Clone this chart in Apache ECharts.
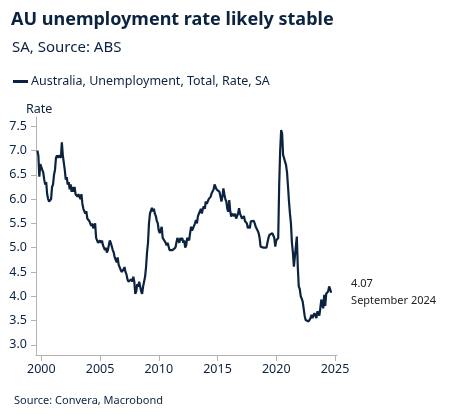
<!DOCTYPE html>
<html><head><meta charset="utf-8">
<script src="https://cdn.jsdelivr.net/npm/echarts@6/dist/echarts.min.js"></script>
<style>html,body{margin:0;padding:0;background:#fff}#c{width:453px;height:417px}</style>
</head><body><div id="c"></div>
<script>
// Monthly unemployment rate, SA, from Sep 1999 to Sep 2024
var startYear = 1999, startMonth = 9;
var rate1999 = [7.0, 6.9, 6.46, 6.72];
var rate2000 = [6.75, 6.6, 6.55, 6.4, 6.3, 6.35, 6.1, 6.0, 5.95, 5.95, 6.0, 6.25];
var rate2001 = [6.3, 6.5, 6.6, 6.85, 6.9, 6.85, 6.9, 6.9, 6.85, 7.17, 6.9, 6.9];
var rate2002 = [6.6, 6.4, 6.45, 6.3, 6.35, 6.2, 6.3, 6.15, 6.25, 6.15, 6.25, 6.1];
var rate2003 = [6.1, 6.05, 6.1, 6.1, 6.0, 6.1, 5.9, 5.8, 5.75, 5.7, 5.75, 5.6];
var rate2004 = [5.6, 5.55, 5.5, 5.45, 5.5, 5.4, 5.45, 5.5, 5.2, 5.15, 5.1, 5.1];
var rate2005 = [5.15, 5.1, 5.15, 5.05, 5.0, 4.95, 5.0, 4.9, 4.95, 5.05, 5.15, 5.1];
var rate2006 = [5.1, 4.95, 4.9, 4.8, 4.75, 4.7, 4.8, 4.65, 4.6, 4.55, 4.5, 4.5];
var rate2007 = [4.55, 4.6, 4.5, 4.45, 4.35, 4.3, 4.3, 4.3, 4.35, 4.3, 4.4, 4.3];
var rate2008 = [4.05, 4.1, 4.25, 4.2, 4.3, 4.2, 4.1, 4.05, 4.2, 4.3, 4.4, 4.6];
var rate2009 = [4.9, 5.1, 5.5, 5.7, 5.7, 5.82, 5.75, 5.8, 5.7, 5.65, 5.55, 5.5];
var rate2010 = [5.35, 5.3, 5.3, 5.43, 5.2, 5.2, 5.2, 5.1, 5.05, 5.1, 5.1, 4.95];
var rate2011 = [4.92, 4.95, 4.95, 4.95, 4.95, 5.0, 5.1, 5.2, 5.23, 5.1, 5.2, 5.15];
var rate2012 = [5.2, 5.1, 5.15, 5.0, 5.05, 5.2, 5.2, 5.15, 5.3, 5.43, 5.35, 5.35];
var rate2013 = [5.45, 5.5, 5.57, 5.5, 5.65, 5.7, 5.7, 5.8, 5.7, 5.8, 5.85, 5.8];
var rate2014 = [5.95, 5.9, 5.95, 6.0, 6.0, 6.05, 6.12, 6.1, 6.2, 6.3, 6.25, 6.2];
var rate2015 = [6.2, 6.2, 6.15, 6.05, 5.95, 6.05, 6.22, 6.1, 6.0, 5.95, 5.8, 5.74];
var rate2016 = [5.98, 5.75, 5.64, 5.7, 5.7, 5.65, 5.7, 5.6, 5.61, 5.7, 5.81, 5.7];
var rate2017 = [5.65, 5.6, 5.57, 5.65, 5.55, 5.55, 5.5, 5.4, 5.45, 5.4, 5.54, 5.5];
var rate2018 = [5.5, 5.55, 5.5, 5.43, 5.4, 5.35, 5.3, 5.2, 5.02, 5.05, 5.05, 5.0];
var rate2019 = [4.99, 5.0, 5.0, 5.1, 5.2, 5.26, 5.25, 5.3, 5.3, 5.25, 5.2, 5.02];
var rate2020 = [5.15, 5.19, 5.2, 6.3, 7.0, 7.42, 7.35, 6.91, 6.94, 6.9, 6.7, 6.55];
var rate2021 = [6.26, 5.95, 5.7, 5.5, 5.1, 4.9, 4.61, 4.6, 4.65, 5.23, 4.6, 4.2];
var rate2022 = [4.15, 4.0, 3.95, 3.89, 3.85, 3.6, 3.51, 3.55, 3.5, 3.48, 3.5, 3.55];
var rate2023 = [3.62, 3.55, 3.6, 3.65, 3.6, 3.55, 3.69, 3.65, 3.6, 3.75, 3.93, 3.85];
var rate2024 = [3.75, 4.03, 3.8, 4.05, 4.05, 4.1, 4.2, 4.15, 4.07];

var xTickYears = [2000, 2005, 2010, 2015, 2020, 2025];
var yTickValues = [3.0, 3.5, 4.0, 4.5, 5.0, 5.5, 6.0, 6.5, 7.0, 7.5];
var lastLabel = 'September 2024';

var allRates = [].concat(rate1999, rate2000, rate2001, rate2002, rate2003, rate2004,
  rate2005, rate2006, rate2007, rate2008, rate2009, rate2010, rate2011, rate2012,
  rate2013, rate2014, rate2015, rate2016, rate2017, rate2018, rate2019, rate2020,
  rate2021, rate2022, rate2023, rate2024);
var seriesData = allRates.map(function (v, i) {
  var m = startMonth - 1 + i;
  return [startYear + m / 12, v];
});

var navy = '#0c2340';
var font = 'Noto Sans';
var chart = echarts.init(document.getElementById('c'), null, {renderer: 'canvas'});
chart.setOption({
  animation: false,
  textStyle: {fontFamily: font},
  title: [
    {text: 'AU unemployment rate likely stable', left: 6, top: 6,
     textStyle: {fontFamily: font, fontSize: 18, fontWeight: 'bold', color: navy}},
    {text: 'SA, Source: ABS', left: 7, top: 35,
     textStyle: {fontFamily: font, fontSize: 15, fontWeight: 'normal', color: navy}},
    {text: 'Rate', left: 21, top: 98,
     textStyle: {fontFamily: font, fontSize: 12.5, fontWeight: 'normal', color: navy}},
    {text: 'Source: Convera, Macrobond', left: 9, top: 390,
     textStyle: {fontFamily: font, fontSize: 11, fontWeight: 'normal', color: navy}}
  ],
  legend: {
    left: 8, top: 70, itemWidth: 15, itemHeight: 3, itemGap: 4,
    icon: 'rect',
    textStyle: {fontFamily: font, fontSize: 12.5, color: navy, padding: [0, 0, 0, -2]},
    data: ['Australia, Unemployment, Total, Rate, SA']
  },
  grid: {left: 36, right: 116, top: 117, bottom: 62, containLabel: false},
  xAxis: {
    type: 'value', min: 1999.55, max: 2025.17,
    splitLine: {show: false},
    axisLine: {show: true, lineStyle: {color: '#b3b3b3', width: 1}},
    axisTick: {show: true, length: 6, lineStyle: {color: '#b3b3b3'}, customValues: xTickYears},
    axisLabel: {fontFamily: font, fontSize: 12.5, color: navy, margin: 8, customValues: xTickYears,
      formatter: function (v) { return String(Math.round(v)); }}
  },
  yAxis: {
    type: 'value', min: 2.79, max: 7.69,
    splitLine: {show: false},
    axisLine: {show: true, lineStyle: {color: '#b3b3b3', width: 1}},
    axisTick: {show: true, length: 5, lineStyle: {color: '#b3b3b3'}, customValues: yTickValues},
    axisLabel: {fontFamily: font, fontSize: 12.5, color: navy, margin: 9, customValues: yTickValues,
      formatter: function (v) { return v.toFixed(1); }}
  },
  series: [{
    name: 'Australia, Unemployment, Total, Rate, SA',
    type: 'line', data: seriesData, showSymbol: false, symbol: 'none',
    lineStyle: {color: navy, width: 2.2}, itemStyle: {color: navy},
    endLabel: {
      show: true, distance: 20, color: '#222', fontFamily: font, fontSize: 11, lineHeight: 17,
      align: 'left',
      formatter: function (p) { return p.value[1].toFixed(2) + '\n' + lastLabel; }
    }
  }]
});
</script></body></html>
